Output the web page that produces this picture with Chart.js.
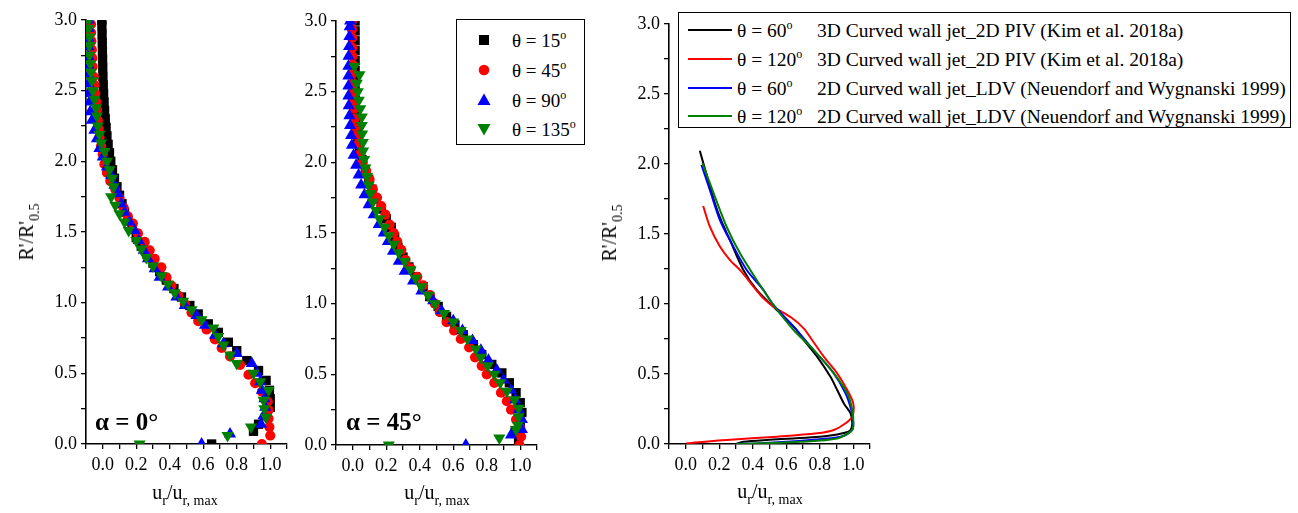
<!DOCTYPE html>
<html><head><meta charset="utf-8">
<script src="https://cdn.jsdelivr.net/npm/chart.js@4.4.1/dist/chart.umd.min.js"></script>
<style>
html,body{margin:0;padding:0;background:#fff;}
body{width:1298px;height:513px;position:relative;overflow:hidden;font-family:"Liberation Serif","Times New Roman",serif;color:#000;}
canvas{position:absolute;}
.t{position:absolute;white-space:nowrap;line-height:1;}
.sb{font-size:14px;position:relative;top:6px;}
.sp{font-size:12px;position:relative;top:-8px;}
.box{position:absolute;border:1px solid #000;background:#fff;box-sizing:border-box;}
.ttl{font-size:20px;}
.yt{position:absolute;white-space:nowrap;line-height:1;font-size:20px;transform:translate(-50%,-50%) rotate(-90deg);}
.alpha{position:absolute;white-space:nowrap;line-height:1;font-size:25px;font-weight:bold;}
.lg{position:absolute;white-space:nowrap;line-height:1;font-size:19px;}
.lg2{position:absolute;white-space:nowrap;line-height:1;font-size:19.5px;}
</style>
</head><body>
<canvas id="c1" width="271" height="484" style="left:26px;top:5px"></canvas>
<canvas id="c2" width="271" height="484" style="left:276px;top:6px"></canvas>
<canvas id="c3" width="271" height="480" style="left:609px;top:9px"></canvas>

<div class="t ttl" style="left:185px;top:482px;transform:translateX(-50%)">u<span class="sb">r</span>/u<span class="sb">r, max</span></div>
<div class="t ttl" style="left:437px;top:482px;transform:translateX(-50%)">u<span class="sb">r</span>/u<span class="sb">r, max</span></div>
<div class="t ttl" style="left:770px;top:481px;transform:translateX(-50%)">u<span class="sb">r</span>/u<span class="sb">r, max</span></div>
<div class="yt" style="left:26px;top:232px">R'/R'<span class="sb">0.5</span></div>
<div class="yt" style="left:609px;top:233px">R'/R'<span class="sb">0.5</span></div>

<div class="alpha" style="left:95px;top:409px">&alpha; = 0&deg;</div>
<div class="alpha" style="left:346px;top:409px">&alpha; = 45&deg;</div>

<div class="box" style="left:456px;top:19px;width:129px;height:126px">
  <svg style="position:absolute;left:19px;top:12px" width="16" height="16"><rect x="3" y="3" width="10" height="10" fill="#000"/></svg>
  <div class="lg" style="left:55px;top:11px">&theta; = 15<span class="sp">o</span></div>
  <svg style="position:absolute;left:19px;top:42px" width="16" height="16"><circle cx="8" cy="8" r="5.3" fill="#ff0000"/></svg>
  <div class="lg" style="left:55px;top:41px">&theta; = 45<span class="sp">o</span></div>
  <svg style="position:absolute;left:19px;top:72px" width="16" height="16"><polygon points="8,1.5 14.5,13 1.5,13" fill="#0000ff"/></svg>
  <div class="lg" style="left:55px;top:71px">&theta; = 90<span class="sp">o</span></div>
  <svg style="position:absolute;left:19px;top:101px" width="16" height="16"><polygon points="1.5,3 14.5,3 8,14.5" fill="#008000"/></svg>
  <div class="lg" style="left:55px;top:100px">&theta; = 135<span class="sp">o</span></div>
</div>

<div class="box" style="left:678px;top:12px;width:613px;height:116px">
  <svg style="position:absolute;left:9px;top:10px" width="46" height="14"><line x1="0" y1="7" x2="44" y2="7" stroke="#000" stroke-width="2"/></svg>
  <div class="lg2" style="left:58px;top:8px">&theta; = 60<span class="sp">o</span></div>
  <div class="lg2" style="left:138px;top:8px">3D Curved wall jet_2D PIV (Kim et al. 2018a)</div>
  <svg style="position:absolute;left:9px;top:39px" width="46" height="14"><line x1="0" y1="7" x2="44" y2="7" stroke="#ff0000" stroke-width="2"/></svg>
  <div class="lg2" style="left:58px;top:37px">&theta; = 120<span class="sp">o</span></div>
  <div class="lg2" style="left:138px;top:37px">3D Curved wall jet_2D PIV (Kim et al. 2018a)</div>
  <svg style="position:absolute;left:9px;top:68px" width="46" height="14"><line x1="0" y1="7" x2="44" y2="7" stroke="#0000ff" stroke-width="2"/></svg>
  <div class="lg2" style="left:58px;top:66px">&theta; = 60<span class="sp">o</span></div>
  <div class="lg2" style="left:138px;top:66px">2D Curved wall jet_LDV (Neuendorf and Wygnanski 1999)</div>
  <svg style="position:absolute;left:9px;top:96px" width="46" height="14"><line x1="0" y1="7" x2="44" y2="7" stroke="#008000" stroke-width="2"/></svg>
  <div class="lg2" style="left:58px;top:94px">&theta; = 120<span class="sp">o</span></div>
  <div class="lg2" style="left:138px;top:94px">2D Curved wall jet_LDV (Neuendorf and Wygnanski 1999)</div>
</div>

<script>
// ---------- Panel 1 (alpha = 0) ----------
const p1_sq_R = [0.00,0.09,0.14,0.20,0.26,0.32,0.38,0.45,0.52,0.59,0.66,0.72,0.79,0.85,0.92,0.98,1.04,1.10,1.16,1.22,1.28,1.34,1.40,1.46,1.52,1.58,1.64,1.70,1.76,1.82,1.88,1.94,2.00,2.06,2.12,2.18,2.24,2.30,2.36,2.42,2.48,2.54,2.60,2.66,2.72,2.78,2.84,2.90,2.96,3.00];
const p1_sq_U = [0.65,0.90,0.93,0.98,1.00,1.00,0.995,0.975,0.93,0.86,0.80,0.75,0.69,0.63,0.57,0.52,0.47,0.425,0.38,0.34,0.30,0.265,0.23,0.20,0.175,0.15,0.13,0.115,0.10,0.085,0.07,0.058,0.048,0.04,0.032,0.025,0.02,0.015,0.011,0.008,0.005,0.003,0.001,0.0,-0.001,-0.002,-0.003,-0.004,-0.005,-0.005];
const p1_ci_R = [0.00,0.06,0.12,0.18,0.24,0.30,0.37,0.43,0.49,0.56,0.62,0.68,0.74,0.81,0.87,0.93,0.99,1.05,1.12,1.18,1.25,1.31,1.37,1.43,1.49,1.56,1.61,1.67,1.74,1.80,1.86,1.92,1.98,2.05,2.11,2.17,2.23,2.29,2.36,2.42,2.48,2.54,2.60,2.67,2.73,2.79,2.85,2.91,2.97];
const p1_ci_U = [0.95,1.00,0.995,0.99,0.99,0.985,0.95,0.91,0.87,0.82,0.76,0.71,0.67,0.62,0.57,0.53,0.49,0.45,0.41,0.38,0.35,0.31,0.28,0.25,0.21,0.18,0.15,0.125,0.10,0.075,0.045,0.025,0.01,0.0,-0.01,-0.02,-0.025,-0.03,-0.035,-0.04,-0.045,-0.05,-0.055,-0.06,-0.062,-0.065,-0.068,-0.07,-0.07];
const p1_tu_R = [0.00,0.07,0.14,0.20,0.26,0.32,0.38,0.44,0.50,0.57,0.64,0.71,0.77,0.84,0.91,0.98,1.04,1.11,1.18,1.24,1.31,1.37,1.44,1.51,1.57,1.64,1.70,1.77,1.83,1.90,1.96,2.03,2.09,2.16,2.22,2.29,2.35,2.42,2.48,2.55,2.61,2.68,2.74,2.81,2.87,2.94,3.00];
const p1_tu_U = [0.59,0.76,0.945,0.96,0.97,0.965,0.95,0.94,0.92,0.89,0.80,0.72,0.67,0.61,0.56,0.49,0.44,0.39,0.34,0.31,0.27,0.245,0.215,0.19,0.16,0.13,0.11,0.09,0.07,0.05,0.025,0.0,-0.02,-0.035,-0.05,-0.065,-0.075,-0.08,-0.085,-0.085,-0.085,-0.085,-0.085,-0.085,-0.085,-0.085,-0.085];
const p1_td_R = [0.00,0.06,0.12,0.19,0.25,0.31,0.38,0.44,0.50,0.57,0.63,0.70,0.76,0.82,0.88,0.95,1.01,1.07,1.13,1.19,1.26,1.32,1.38,1.44,1.51,1.57,1.63,1.69,1.75,1.82,1.88,1.94,2.00,2.07,2.13,2.19,2.25,2.32,2.38,2.44,2.50,2.57,2.63,2.69,2.75,2.82,2.88,2.94,3.00];
const p1_td_U = [0.22,0.745,0.885,0.975,0.965,0.96,0.99,0.94,0.90,0.80,0.76,0.72,0.69,0.66,0.59,0.53,0.48,0.43,0.39,0.35,0.30,0.26,0.23,0.20,0.155,0.13,0.10,0.075,0.05,0.065,0.055,0.04,0.025,0.01,-0.01,-0.02,-0.03,-0.035,-0.04,-0.05,-0.06,-0.065,-0.07,-0.075,-0.08,-0.08,-0.08,-0.085,-0.085];

// ---------- Panel 2 (alpha = 45) ----------
const p2_sq_R = [0.04,0.10,0.16,0.23,0.30,0.37,0.44,0.51,0.57,0.64,0.71,0.78,0.85,0.91,0.98,1.05,1.12,1.19,1.26,1.33,1.40,1.47,1.54,1.60,1.67,1.74,1.81,1.88,1.95,2.02,2.09,2.16,2.23,2.30,2.37,2.44,2.51,2.58,2.65,2.72,2.79,2.86,2.93,3.00];
const p2_sq_U = [0.99,0.97,1.0,1.01,1.0,0.975,0.935,0.89,0.83,0.77,0.72,0.66,0.61,0.56,0.51,0.46,0.42,0.375,0.335,0.30,0.27,0.25,0.23,0.20,0.17,0.14,0.115,0.095,0.075,0.055,0.04,0.03,0.022,0.018,0.016,0.015,0.014,0.014,0.014,0.014,0.014,0.014,0.014,0.014];
const p2_ci_R = [0.00,0.06,0.12,0.18,0.25,0.31,0.37,0.44,0.50,0.56,0.62,0.69,0.75,0.81,0.87,0.94,1.00,1.06,1.13,1.19,1.25,1.31,1.38,1.44,1.50,1.56,1.63,1.69,1.75,1.81,1.88,1.94,2.00,2.06,2.13,2.19,2.25,2.31,2.38,2.44,2.50,2.56,2.63,2.69,2.75,2.81,2.88,2.94,3.00];
const p2_ci_U = [0.995,1.005,1.0,0.975,0.945,0.92,0.885,0.845,0.80,0.77,0.73,0.695,0.645,0.605,0.56,0.52,0.49,0.46,0.42,0.385,0.345,0.315,0.29,0.265,0.245,0.22,0.195,0.17,0.145,0.12,0.10,0.08,0.06,0.045,0.035,0.025,0.018,0.012,0.008,0.005,0.003,0.002,0.0,0.0,-0.002,-0.003,-0.004,-0.005,-0.005];
const p2_tu_R = [0.00,0.07,0.11,0.18,0.25,0.32,0.39,0.46,0.53,0.60,0.67,0.74,0.81,0.88,0.95,1.02,1.09,1.16,1.23,1.30,1.37,1.44,1.50,1.56,1.63,1.70,1.77,1.84,1.91,1.98,2.05,2.12,2.19,2.26,2.33,2.40,2.47,2.54,2.61,2.68,2.75,2.82,2.89,2.96,3.00];
const p2_tu_U = [0.675,0.945,1.01,1.01,0.99,0.97,0.945,0.90,0.86,0.81,0.765,0.715,0.655,0.60,0.53,0.48,0.41,0.36,0.31,0.275,0.24,0.21,0.185,0.155,0.125,0.095,0.07,0.05,0.035,0.02,0.005,-0.005,-0.01,-0.016,-0.02,-0.024,-0.026,-0.026,-0.026,-0.026,-0.025,-0.022,-0.02,-0.018,-0.016];
const p2_td_R = [0.00,0.05,0.11,0.14,0.20,0.26,0.32,0.38,0.44,0.50,0.56,0.62,0.68,0.75,0.81,0.87,0.93,1.00,1.06,1.12,1.18,1.24,1.30,1.36,1.42,1.48,1.54,1.60,1.66,1.72,1.78,1.84,1.90,1.96,2.02,2.08,2.14,2.20,2.26,2.32,2.38,2.44,2.50,2.56,2.62,2.68];
const p2_td_U = [0.215,0.875,0.975,0.985,0.99,0.99,0.965,0.92,0.88,0.845,0.805,0.765,0.735,0.685,0.645,0.60,0.545,0.49,0.45,0.41,0.375,0.345,0.31,0.275,0.245,0.215,0.19,0.16,0.14,0.12,0.105,0.095,0.085,0.075,0.068,0.062,0.06,0.056,0.054,0.054,0.045,0.036,0.03,0.024,0.04,0.01];

// ---------- Panel 3 (comparison lines) ----------
const l_k60_U = [0.30,0.344,0.50,0.644,0.80,0.884,0.95,0.984,0.994,0.984,0.944,0.904,0.864,0.784,0.704,0.654,0.524,0.424,0.344,0.264,0.21,0.174,0.13,0.084];
const l_k60_R = [0.0,0.016,0.03,0.04,0.052,0.064,0.08,0.10,0.148,0.219,0.29,0.386,0.48,0.624,0.743,0.826,0.98,1.10,1.243,1.457,1.60,1.72,1.90,2.095];
const l_k120_U = [0.004,0.244,0.544,0.784,0.884,0.954,0.994,1.0,0.964,0.904,0.824,0.754,0.704,0.634,0.524,0.464,0.404,0.334,0.264,0.204,0.144,0.104];
const l_k120_R = [0.005,0.029,0.052,0.076,0.10,0.148,0.195,0.29,0.386,0.505,0.624,0.743,0.826,0.90,0.98,1.04,1.124,1.23,1.314,1.41,1.552,1.70];
const l_n60_U = [0.304,0.444,0.744,0.924,0.994,1.0,0.988,0.954,0.884,0.764,0.644,0.524,0.464,0.364,0.274,0.204,0.144,0.094];
const l_n60_R = [0.0,0.005,0.029,0.052,0.10,0.148,0.243,0.362,0.505,0.671,0.838,0.993,1.10,1.243,1.433,1.60,1.814,1.993];
const l_n120_U = [0.304,0.444,0.684,0.904,0.984,1.0,0.994,0.964,0.884,0.764,0.644,0.524,0.424,0.324,0.244,0.174,0.10];
const l_n120_R = [0.0,0.005,0.016,0.04,0.088,0.124,0.243,0.362,0.505,0.671,0.814,0.993,1.171,1.362,1.552,1.767,2.005];

const xTicks = [-0.1,1.1,0.1];
const yTicks = [0,3,0.25];

function pts(U,R){ return U.map((u,i)=>({x:u,y:R[i]})); }
const FAM = "'Liberation Serif','Times New Roman',serif";
Chart.defaults.font.family = FAM;
Chart.defaults.color = '#000';

const xCb = v => { const k = Math.round(v*10); if (k<0 || k>10 || k%2) return ''; return (k/10).toFixed(1); };
const yCb = v => { const k = Math.round(v*4); if (k%2) return ''; return (k/4).toFixed(1); };

function scales(){
  return {
    x:{type:'linear',min:xTicks[0],max:xTicks[1],
       ticks:{stepSize:xTicks[2],callback:xCb,font:{family:FAM,size:18},color:'#000',maxRotation:0,autoSkip:false,padding:5},
       grid:{drawOnChartArea:false,drawTicks:true,tickLength:5,tickColor:'#000',lineWidth:1.3},
       border:{display:true,color:'#000',width:1.6},
       afterFit:s=>{s.height=45;}},
    y:{type:'linear',min:yTicks[0],max:yTicks[1],
       ticks:{stepSize:yTicks[2],callback:yCb,font:{family:FAM,size:18},color:'#000',autoSkip:false,padding:4},
       grid:{drawOnChartArea:false,drawTicks:true,tickLength:5,tickColor:'#000',lineWidth:1.3},
       border:{display:true,color:'#000',width:1.6},
       afterFit:s=>{s.width=60;}}
  };
}
function baseOpts(){
  return {responsive:false,animation:false,devicePixelRatio:1,events:[],
    layout:{padding:{top:15,right:10,left:0,bottom:0}},
    plugins:{legend:{display:false},tooltip:{enabled:false}},
    scales:scales()};
}
function mk(U,R,style,color,rad,rot,order){
  return {data:pts(U,R),pointStyle:style,pointRadius:rad,pointRotation:rot,backgroundColor:color,borderColor:color,borderWidth:0,showLine:false,order:order,clip:0};
}
function scatterSets(a){
  return [
    mk(a[0],a[1],'rect','#000000',6.6,0,4),
    mk(a[2],a[3],'circle','#ff0000',5.1,0,3),
    mk(a[4],a[5],'triangle','#0000ff',7,0,2),
    mk(a[6],a[7],'triangle','#008000',7,180,1)
  ];
}
function ln(U,R,color,order){
  return {data:pts(U,R),showLine:true,pointRadius:0,borderColor:color,backgroundColor:color,borderWidth:2,tension:0.3,fill:false,order:order,clip:0};
}
function draw(){
  new Chart(document.getElementById('c1'),{type:'scatter',
    data:{datasets:scatterSets([p1_sq_U,p1_sq_R,p1_ci_U,p1_ci_R,p1_tu_U,p1_tu_R,p1_td_U,p1_td_R])},options:baseOpts()});
  new Chart(document.getElementById('c2'),{type:'scatter',
    data:{datasets:scatterSets([p2_sq_U,p2_sq_R,p2_ci_U,p2_ci_R,p2_tu_U,p2_tu_R,p2_td_U,p2_td_R])},options:baseOpts()});
  new Chart(document.getElementById('c3'),{type:'scatter',
    data:{datasets:[ln(l_k60_U,l_k60_R,'#000000',4),ln(l_k120_U,l_k120_R,'#ff0000',3),ln(l_n60_U,l_n60_R,'#0000ff',2),ln(l_n120_U,l_n120_R,'#008000',1)]},
    options:baseOpts()});
}
let done=false;
function go(){ if(done) return; done=true; draw(); }
if (document.fonts && document.fonts.load) {
  document.fonts.load("18px 'Liberation Serif'").then(go, go);
  setTimeout(go, 1500);
} else { go(); }
</script>
</body></html>
